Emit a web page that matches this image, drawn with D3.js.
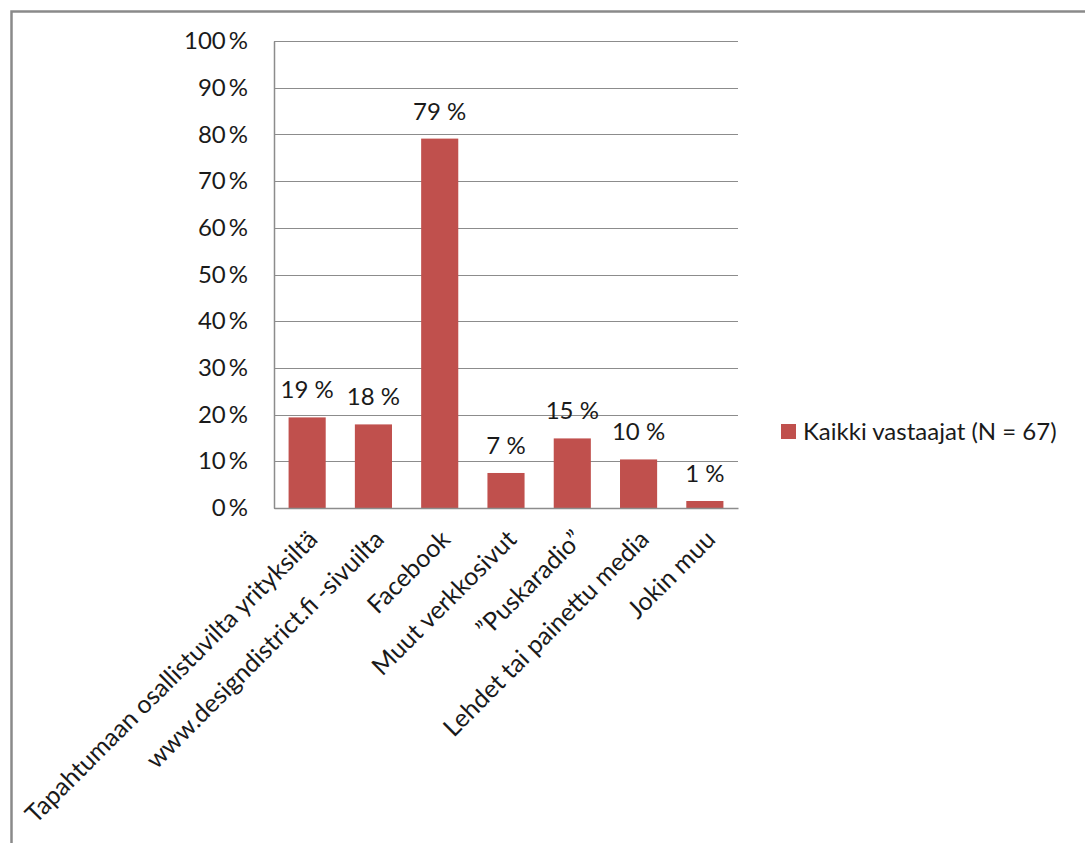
<!DOCTYPE html>
<html>
<head>
<meta charset="utf-8">
<script src="https://cdn.jsdelivr.net/npm/d3@7"></script>
<style>
  body { margin: 0; background: #fff; }
  svg { display: block; }
</style>
</head>
<body>
<div id="chart"></div>
<script>
// data
var categories = [
    "Tapahtumaan osallistuvilta yrityksiltä",
    "www.designdistrict.fi -sivuilta",
    "Facebook",
    "Muut verkkosivut",
    "\u201dPuskaradio\u201d",
    "Lehdet tai painettu media",
    "Jokin muu"
];
var values = [0.194, 0.179, 0.791, 0.075, 0.149, 0.104, 0.015];
var valueLabels = ["19 %", "18 %", "79 %", "7 %", "15 %", "10 %", "1 %"];
var yTicks = [0, 0.1, 0.2, 0.3, 0.4, 0.5, 0.6, 0.7, 0.8, 0.9, 1];
var seriesName = "Kaikki vastaajat (N = 67)";

var attrs = {
    svgWidth: 1085,
    svgHeight: 843,
    plotLeft: 274,
    plotRight: 738,
    plotTop: 41,
    plotBottom: 508,
    barColor: '#C0504D',
    gridColor: '#8c8c8c',
    textFill: '#1a1a1a',
    fontSize: 24,
    font: 'Lato, "Open Sans", sans-serif'
};

var svg = d3.select('#chart').append('svg')
    .attr('width', attrs.svgWidth)
    .attr('height', attrs.svgHeight)
    .attr('font-family', attrs.font);

// outer frame (only top/left visible)
svg.append('path')
    .attr('d', 'M11.5,' + attrs.svgHeight + 'V11.5H' + attrs.svgWidth)
    .attr('fill', 'none')
    .attr('stroke', '#8a8a8a')
    .attr('stroke-width', 2.5);

var x = d3.scaleBand()
    .domain(categories)
    .range([attrs.plotLeft, attrs.plotRight])
    .paddingInner(0.44)
    .paddingOuter(0.22);

var y = d3.scaleLinear()
    .domain([0, 1])
    .range([attrs.plotBottom, attrs.plotTop]);

// gridlines
svg.append('g').selectAll('line.grid')
    .data(yTicks)
    .enter().append('line')
    .attr('class', 'grid')
    .attr('x1', attrs.plotLeft)
    .attr('x2', attrs.plotRight)
    .attr('y1', d => Math.round(y(d)) + 0.5)
    .attr('y2', d => Math.round(y(d)) + 0.5)
    .attr('stroke', attrs.gridColor)
    .attr('stroke-width', 1.2);

// y axis labels
var yAxis = d3.axisLeft(y)
    .tickValues(yTicks)
    .tickSize(0)
    .tickPadding(26)
    .tickFormat(d => Math.round(d * 100) + '\u2009%');

var yG = svg.append('g')
    .attr('transform', 'translate(' + attrs.plotLeft + ',0)')
    .call(yAxis);
yG.select('.domain').attr('stroke', attrs.gridColor).attr('stroke-width', 1.5);
yG.selectAll('text')
    .attr('font-size', attrs.fontSize)
    .attr('fill', attrs.textFill)
    .attr('font-family', attrs.font);

// bars
svg.append('g').selectAll('rect.bar')
    .data(values)
    .enter().append('rect')
    .attr('class', 'bar')
    .attr('x', (d, i) => x(categories[i]))
    .attr('width', x.bandwidth())
    .attr('y', d => y(d))
    .attr('height', d => y(0) - y(d))
    .attr('fill', attrs.barColor);

// value labels
svg.append('g').selectAll('text.value')
    .data(values)
    .enter().append('text')
    .attr('class', 'value')
    .attr('x', (d, i) => x(categories[i]) + x.bandwidth() / 2)
    .attr('y', d => y(d) - 19)
    .attr('text-anchor', 'middle')
    .attr('font-size', attrs.fontSize)
    .attr('fill', attrs.textFill)
    .text((d, i) => valueLabels[i]);

// x axis
var xAxis = d3.axisBottom(x).tickSize(0).tickPadding(0);
var xG = svg.append('g')
    .attr('transform', 'translate(0,' + attrs.plotBottom + ')')
    .call(xAxis);
xG.select('.domain').attr('stroke', attrs.gridColor).attr('stroke-width', 1.5);
xG.selectAll('.tick text')
    .attr('font-size', 25)
    .attr('font-family', attrs.font)
    .attr('fill', attrs.textFill)
    .attr('text-anchor', 'end')
    .attr('dy', null)
    .attr('x', 0)
    .attr('y', 0)
    .attr('transform', 'translate(12,33) rotate(-45)');

// legend
var legend = svg.append('g').attr('transform', 'translate(781,424)');
legend.append('rect')
    .attr('width', 15)
    .attr('height', 15)
    .attr('fill', attrs.barColor);
legend.append('text')
    .attr('x', 22)
    .attr('y', 16)
    .attr('font-size', attrs.fontSize)
    .attr('fill', attrs.textFill)
    .text(seriesName);
</script>
</body>
</html>
